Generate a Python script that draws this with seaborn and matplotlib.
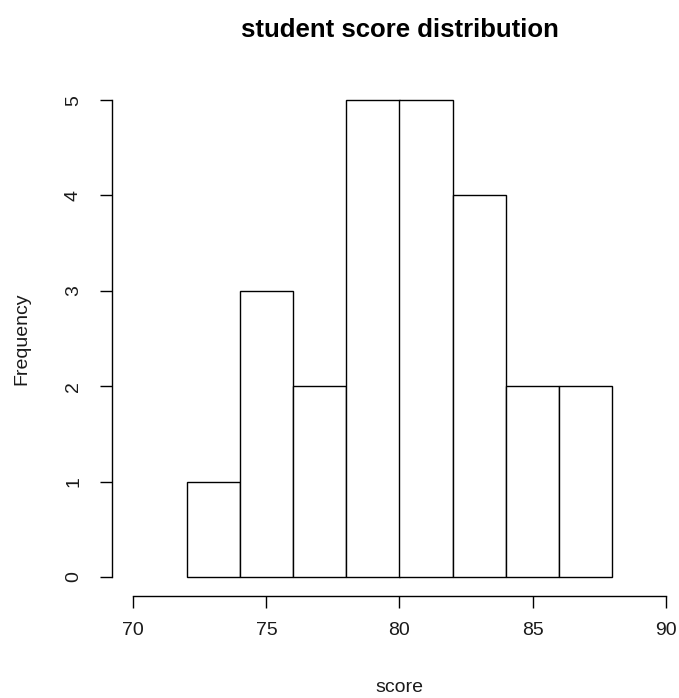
import numpy as np
import matplotlib
matplotlib.use("Agg")
import matplotlib.pyplot as plt
import seaborn as sns

# histogram data
bin_edges = [72, 74, 76, 78, 80, 82, 84, 86, 88]
counts = [1, 3, 2, 5, 5, 4, 2, 2]
x_ticks = [70, 75, 80, 85, 90]
y_ticks = [0, 1, 2, 3, 4, 5]

sns.set_style("white")
plt.rcParams['font.family'] = ['Liberation Sans', 'DejaVu Sans']

W, H = 679, 698
fig = plt.figure(figsize=(W / 100, H / 100), dpi=100)
# plot region in pixels (R style: limits padded 4%)
left_px, right_px, top_px, bottom_px = 112, 687, 81, 596
ax = fig.add_axes([left_px / W, 1 - bottom_px / H,
                   (right_px - left_px) / W, (bottom_px - top_px) / H])

mids = [(a + b) / 2 for a, b in zip(bin_edges[:-1], bin_edges[1:])]
sns.histplot(x=mids, weights=counts, bins=bin_edges, ax=ax,
             color="white", edgecolor="black", linewidth=1.0, alpha=1)

ax.set_xlim(69.2, 90.8)
ax.set_ylim(-0.2, 5.2)

for s in ["top", "right"]:
    ax.spines[s].set_visible(False)
ax.spines["left"].set_bounds(0, 5)
ax.spines["bottom"].set_bounds(70, 90)
for s in ["left", "bottom"]:
    ax.spines[s].set_linewidth(1.0)
    ax.spines[s].set_color("black")

ax.set_xticks(x_ticks)
ax.set_yticks(y_ticks)
ax.set_yticklabels([str(v) for v in y_ticks], rotation=90, va="center")
ax.tick_params(axis="both", direction="out", length=8.6, width=1.0,
               color="black", labelsize=14, labelcolor="#1a1a1a",
               left=True, bottom=True)
ax.tick_params(axis="x", pad=10)
ax.tick_params(axis="y", pad=13)

ax.set_xlabel("")
ax.set_ylabel("")
fig.text((left_px + right_px) / 2 / W, 1 - 30 / H, "student score distribution",
         ha="center", va="center", fontsize=18.5, fontweight="bold", color="black")
fig.text((left_px + right_px) / 2 / W, 1 - 688 / H, "score",
         ha="center", va="center", fontsize=14, color="#1a1a1a")
fig.text(22 / W, 1 - ((top_px + bottom_px) / 2) / H, "Frequency",
         ha="center", va="center", rotation=90, fontsize=14, color="#1a1a1a")

fig.savefig("out.png", dpi=100)
